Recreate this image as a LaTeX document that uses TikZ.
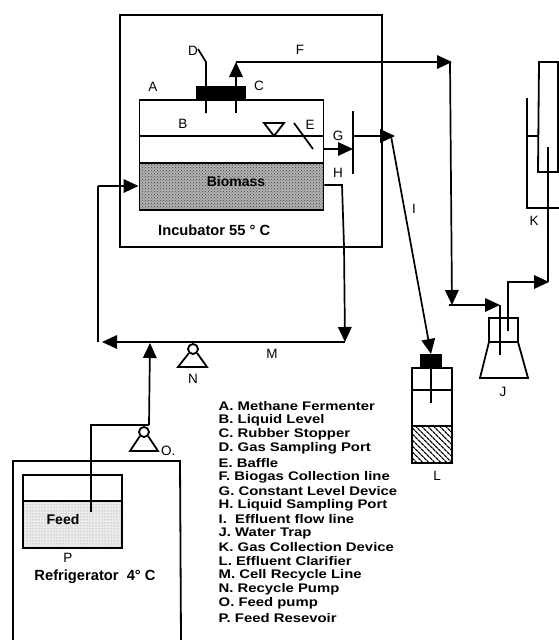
\documentclass[tikz,border=0pt]{standalone}
\usepackage{fontspec}
\setmainfont{Liberation Sans}
\newfontfamily\legfont{Liberation Sans}[FakeStretch=1.19]
\usetikzlibrary{patterns,patterns.meta,arrows.meta}
\tikzset{
 wire/.style={line width=1.7pt,line join=miter},
 box/.style={line width=1.8pt},
 tip/.style={-{Triangle[length=15pt,width=13.5pt]},line width=1.7pt},
 lab/.style={inner sep=0pt,font=\fontsize{13.5}{14}\selectfont},
 blab/.style={inner sep=0pt,font=\fontsize{14}{14}\selectfont\bfseries},
 wlab/.style={inner sep=0pt,font=\fontsize{14.7}{14}\selectfont\bfseries},
 leg/.style={inner sep=0pt,anchor=west,font=\legfont\fontsize{12.5}{14}\selectfont\bfseries},
 stip/.style={preaction={fill=black!30},pattern=crosshatch dots,pattern color=black!75},
 stiplight/.style={preaction={fill=black!8},pattern=dots,pattern color=black!45}
}
\begin{document}
\begin{tikzpicture}[x=1pt,y=-1pt]
\useasboundingbox (0,0) rectangle (559,640);
% incubator
\node[box,draw,minimum width=262pt,minimum height=232pt,anchor=north west,inner sep=0pt] (inc) at (119,14) {};
% fermenter
\node[box,draw,stip,minimum width=184pt,minimum height=47pt,anchor=north west,inner sep=0pt] (bio) at (138.5,162) {};
\node[box,draw,minimum width=184pt,minimum height=63pt,anchor=north west,inner sep=0pt] (ferm) at (138.5,99) {};
\draw[wire] (ferm.west |- 0,136) coordinate (lvlL) -- (ferm.east |- 0,136) coordinate (lvlR);
\node[fill=black,minimum width=50pt,minimum height=13pt,anchor=north west,inner sep=0pt] (stop) at (196,86) {};
\node[blab] (biomass) at (236,181) {Biomass};
\node[lab] (lA) at (153,87) {A};
\node[lab] (lB) at (183,124) {B};
\node[lab] (lC) at (259,86) {C};
\node[lab] (lD) at (193,51) {D};
\node[lab] (lE) at (310,125) {E};
\node[lab] (lF) at (300,50) {F};
\node[lab] (lG) at (338,136) {G};
\node[lab] (lH) at (338,173) {H};
\node[lab] (lI) at (414,209) {I};
\node[wlab,anchor=west] (inctxt) at (158,230) {Incubator 55 ° C};
% D tube, gas line
\coordinate (dbot) at (206,113); \coordinate (dtop) at (206,62); \coordinate (dend) at (198,49);
\draw[wire] (dbot) -- (dtop) -- (dend);
\coordinate (fbot) at (236,113); \coordinate (ftip) at (236,62);
\draw[tip] (fbot) -- (ftip);
\coordinate (fend) at (452,62);
\draw[tip] (ftip) -- (fend);
% level symbol and baffle
\coordinate (t1) at (264,123); \coordinate (t2) at (284,123); \coordinate (t3) at (274,136);
\draw[box] (t1) -- (t2) -- (t3) -- cycle;
\coordinate (e1) at (294,123); \coordinate (e2) at (313,149);
\draw[wire] (e1) -- (e2);
% constant level device
\coordinate (gt) at (353,111); \coordinate (gb) at (353,174);
\draw[wire] (gt) -- (gb);
\draw[tip] (ferm.east |- 0,149) -- (gb |- 0,149);
\coordinate (gr) at (395,136);
\draw[tip] (gt |- 0,136) -- (gr);
% effluent line
\coordinate (ltip) at (431,354);
\draw[tip] (391,136) -- (ltip);
% gas line to trap
\coordinate (jc) at (452,305);
\draw[tip] (450,62) -- (jc);
\coordinate (jt) at (500,305);
\draw[tip] (449,305) -- (jt);
\coordinate (jin) at (500,355);
\draw[wire] (jt) -- (jin);
% trap J
\draw[box] (489,342) -- (489,318) -- (518,318) -- (518,342);
\draw[box] (489,342) -- (518,342) -- (528,378) -- (480,378) -- cycle;
\coordinate (jo) at (508,331); \coordinate (jk) at (549,282);
\draw[tip] (jo) -- (508,282) -- (jk);
\coordinate (kin) at (548,147);
\draw[wire] (548,282) -- (kin);
\node[lab] (lJ) at (503,392) {J};
% K
\draw[box] (559,62) -- (539,62) -- (538,172) -- (558,172) -- (558,62);
\draw[box] (527,98) -- (527,208) -- (559,208);
\draw[wire] (527,136) -- (538,136);
\node[lab] (lK) at (534,221) {K};
% L
\node[box,draw,pattern={Lines[angle=-45,distance=4pt,line width=1.3pt]},minimum width=40pt,minimum height=37pt,anchor=north west,inner sep=0pt] (lhatch) at (411,425) {};
\node[box,draw,minimum width=40pt,minimum height=58pt,anchor=north west,inner sep=0pt] (lbody) at (411,367) {};
\node[fill=black,minimum width=22pt,minimum height=13pt,anchor=north west,inner sep=0pt] (lstop) at (420,354) {};
\draw[wire] (411,390) -- (451,390);
\draw[line width=2.4pt] (431,367) -- (431,403);
\node[lab] (lL) at (437,476) {L};
% recycle
\coordinate (hr) at (342,185);
\draw[wire] (ferm.east |- 0,185) -- (hr) -- (344,246);
\coordinate (rtip) at (345,342);
\draw[tip] (344,246) -- (rtip);
\coordinate (mleft) at (102,342);
\draw[tip] (345,342) -- (mleft);
\coordinate (bt) at (98,186);
\draw[wire] (98,342) -- (bt);
\draw[tip] (bt) -- (bio.west |- 0,186);
\node[lab] (lM) at (272,354) {M};
% pump N
\node[draw,box,circle,minimum size=10pt,inner sep=0pt] (pn) at (193,349) {};
\draw[box] (pn.south west) -- (178,367) -- (207,367) -- (pn.south east);
\node[lab] (lN) at (193,379) {N};
% feed
\coordinate (ftop) at (149,425);
\draw[tip] (ftop) -- (150,343);
\coordinate (fc) at (91,425);
\coordinate (fin) at (91,512);
\draw[wire] (ftop) -- (fc) -- (fin);
\node[draw,box,circle,minimum size=10pt,inner sep=0pt] (po) at (144,432) {};
\draw[box] (po.south west) -- (130,451) -- (158,451) -- (po.south east);
\node[lab,anchor=west] (lO) at (161,451) {O.};
% refrigerator
\coordinate (r1) at (13,640); \coordinate (r2) at (13,461); \coordinate (r3) at (180,461); \coordinate (r4) at (181,640);
\draw[box] (r1) -- (r2) -- (r3) -- (r4);
\node[box,draw,stiplight,minimum width=99pt,minimum height=47pt,anchor=north west,inner sep=0pt] (feedb) at (22,500) {};
\node[box,draw,minimum width=99pt,minimum height=26pt,anchor=north west,inner sep=0pt] (feedt) at (22,474) {};
\draw[wire] (91,425) -- (fin);
\node[blab] (feed) at (63,519) {Feed};
\node[lab] (lP) at (68,558) {P};
\node[wlab] (reft) at (95,577) {Refrigerator\ \ 4° C};
% legend
\foreach \t [count=\i from 0] in {A. Methane Fermenter,B. Liquid Level,C. Rubber Stopper,D. Gas Sampling Port,E. Baffle,F. Biogas Collection line,G. Constant Level Device,H. Liquid Sampling Port,I.\ \ Effluent flow line,J. Water Trap,K. Gas Collection Device,L. Effluent Clarifier,M. Cell Recycle Line,N. Recycle Pump,O. Feed pump,P. Feed Resevoir}
  \node[leg] (leg\i) at (218.5,{406.5+14.07*\i}) {\t};
\end{tikzpicture}
\end{document}
